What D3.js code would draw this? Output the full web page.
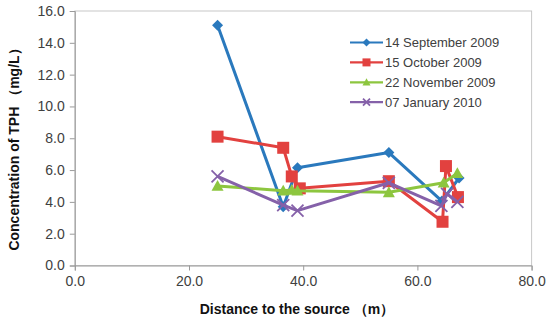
<!DOCTYPE html>
<html>
<head>
<meta charset="utf-8">
<script src="https://cdn.jsdelivr.net/npm/d3@7"></script>
<style>
  body { margin: 0; background: #fff; }
  svg { display: block; font-family: "Liberation Sans", Arial, sans-serif; }
</style>
</head>
<body>
<div id="chart"></div>
<script>
// data
const seriesNames = ['14 September 2009', '15 October 2009', '22 November 2009', '07 January 2010']
const sepX = [25, 36.5, 39, 55, 64.3, 67.3]
const sepY = [15.1, 3.7, 6.15, 7.1, 4.05, 5.5]
const octX = [25, 36.5, 38, 39.4, 55, 64.4, 65, 67.1]
const octY = [8.1, 7.4, 5.6, 4.85, 5.3, 2.75, 6.25, 4.3]
const novX = [25, 36.5, 38, 39, 55, 64.6, 67]
const novY = [5.0, 4.7, 4.75, 4.7, 4.6, 5.2, 5.8]
const janX = [25, 36.5, 39, 55, 64.2, 65.2, 67]
const janY = [5.6, 3.8, 3.45, 5.2, 3.75, 4.5, 4.0]
const xTicks = [0, 20, 40, 60, 80]
const yTicks = [0, 2, 4, 6, 8, 10, 12, 14, 16]

const colors = ['#2a79bd', '#e2413f', '#8dc63f', '#8561a9']
const markers = ['diamond', 'square', 'triangle', 'cross']

const series = [[sepX, sepY], [octX, octY], [novX, novY], [janX, janY]].map((s, i) => ({
  name: seriesNames[i],
  color: colors[i],
  marker: markers[i],
  values: s[0].map((x, j) => ({ x: x, y: s[1][j] }))
}))

const width = 550
const height = 323
const plot = { left: 74.8, right: 531.6, top: 11, bottom: 265.5 }

const svg = d3.select('#chart').append('svg')
  .attr('width', width)
  .attr('height', height)

const x = d3.scaleLinear().domain([0, 80]).range([plot.left, plot.right])
const y = d3.scaleLinear().domain([0, 16]).range([plot.bottom, plot.top])

// plot area border
svg.append('rect')
  .attr('x', plot.left)
  .attr('y', plot.top)
  .attr('width', plot.right - plot.left)
  .attr('height', plot.bottom - plot.top)
  .attr('fill', 'none')
  .attr('stroke', '#c8c8c8')
  .attr('stroke-width', 1)

const xAxis = svg.append('g')
  .attr('transform', `translate(0,${plot.bottom})`)
  .call(d3.axisBottom(x).tickValues(xTicks).tickFormat(d3.format('.1f')).tickSize(5).tickPadding(6))
const yAxis = svg.append('g')
  .attr('transform', `translate(${plot.left},0)`)
  .call(d3.axisLeft(y).tickValues(yTicks).tickFormat(d3.format('.1f')).tickSize(5).tickPadding(5))

for (const ax of [xAxis, yAxis]) {
  ax.select('.domain').attr('stroke', '#9a9a9a')
  ax.selectAll('.tick line').attr('stroke', '#9a9a9a')
  ax.selectAll('.tick text')
    .attr('fill', '#404040')
    .style('font-size', '14px')
    .style('font-family', '"Liberation Sans", Arial, sans-serif')
}

// axis titles
svg.append('text')
  .attr('x', 297)
  .attr('y', 314)
  .attr('text-anchor', 'middle')
  .attr('font-weight', 'bold')
  .attr('font-size', '14px')
  .attr('fill', '#111')
  .text('Distance to the source （m）')

svg.append('text')
  .attr('transform', 'translate(19,146) rotate(-90)')
  .attr('text-anchor', 'middle')
  .attr('font-weight', 'bold')
  .attr('font-size', '14px')
  .attr('fill', '#111')
  .text('Concentration of TPH （mg/L）')

const line = d3.line().x(d => x(d.x)).y(d => y(d.y))

function drawMarker(g, type, color, size) {
  const s = size / 2
  if (type === 'diamond') {
    g.append('path').attr('d', `M0,${-s}L${s},0L0,${s}L${-s},0Z`).attr('fill', color)
  } else if (type === 'square') {
    g.append('rect').attr('x', -s).attr('y', -s).attr('width', size).attr('height', size).attr('fill', color)
  } else if (type === 'triangle') {
    g.append('path').attr('d', `M0,${-s}L${s},${s * 0.8}L${-s},${s * 0.8}Z`).attr('fill', color)
  } else {
    g.append('path').attr('d', `M${-s},${-s}L${s},${s}M${s},${-s}L${-s},${s}`)
      .attr('stroke', color).attr('stroke-width', 1.8).attr('fill', 'none')
  }
}

const sizes = { diamond: 11, square: 12, triangle: 12, cross: 12 }

const sg = svg.selectAll('.series')
  .data(series)
  .enter()
  .append('g')
  .attr('class', 'series')

sg.append('path')
  .attr('d', d => line(d.values))
  .attr('fill', 'none')
  .attr('stroke', d => d.color)
  .attr('stroke-width', 3)
  .attr('stroke-linejoin', 'round')

sg.each(function(d) {
  d3.select(this).selectAll('.pt')
    .data(d.values)
    .enter()
    .append('g')
    .attr('class', 'pt')
    .attr('transform', p => `translate(${x(p.x)},${y(p.y)})`)
    .each(function() { drawMarker(d3.select(this), d.marker, d.color, sizes[d.marker]) })
})

// legend
const legend = svg.append('g').attr('transform', 'translate(350,42.5)')
const li = legend.selectAll('.li')
  .data(series)
  .enter()
  .append('g')
  .attr('class', 'li')
  .attr('transform', (d, i) => `translate(0,${i * 19.9})`)

li.append('line')
  .attr('x1', 0).attr('x2', 33)
  .attr('stroke', d => d.color)
  .attr('stroke-width', 2.2)
li.each(function(d) {
  const g = d3.select(this).append('g').attr('transform', 'translate(16.5,0)')
  drawMarker(g, d.marker, d.color, d.marker === 'cross' ? 7 : 8)
})
li.append('text')
  .attr('x', 35)
  .attr('dy', '0.35em')
  .attr('font-size', '13px')
  .attr('fill', '#404040')
  .text(d => d.name)
</script>
</body>
</html>
